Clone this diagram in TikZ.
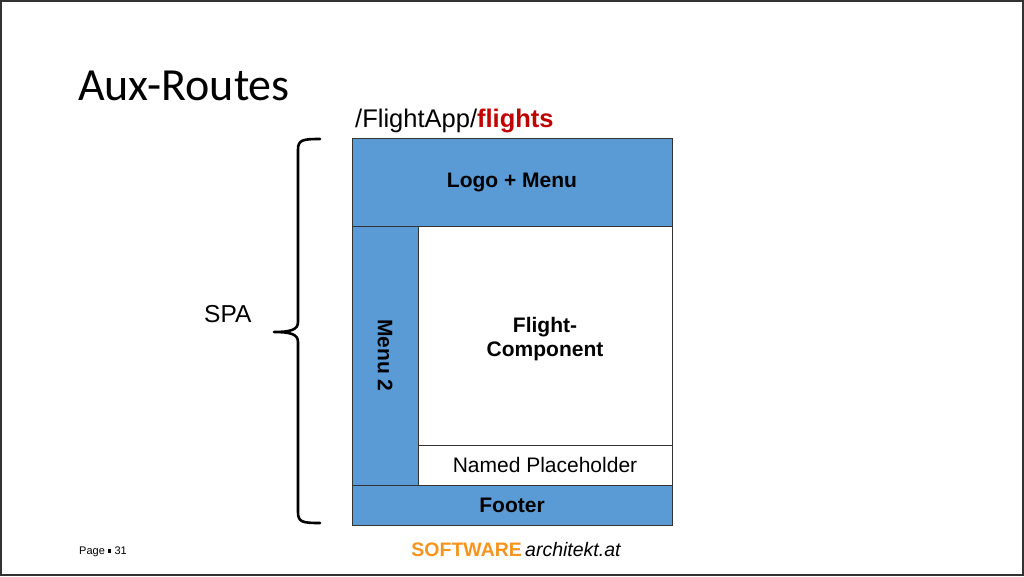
\documentclass[tikz,border=0pt]{standalone}
\usepackage{fontspec}
\setmainfont{Liberation Sans}
\newfontfamily\titlefont{Carlito}
\definecolor{boxblue}{HTML}{5B9BD5}
\definecolor{pathred}{HTML}{C00000}
\definecolor{brandorange}{HTML}{F7941D}
\tikzset{
  region/.style={draw=black!80, line width=0.8pt, anchor=north west, inner sep=0pt, outer sep=0pt, align=center},
  bluebox/.style={region, fill=boxblue, font=\fontsize{21}{24}\selectfont\bfseries},
  whitebox/.style={region, fill=white, font=\fontsize{21}{24}\selectfont},
}
\begin{document}
\begin{tikzpicture}[x=1pt,y=-1pt]
\useasboundingbox (0,0) rectangle (1024,576);
\draw[black!80, line width=1.5pt] (1,1) rectangle (1023,575);
\node[anchor=base west, inner sep=0pt, font=\titlefont\fontsize{46}{52}\selectfont] (title) at (78,100) {Aux-Routes};
\node[anchor=base west, inner sep=0pt, font=\fontsize{25.5}{28}\selectfont] (url) at (355,127) {/FlightApp/{\color{pathred}\bfseries flights}};
\node[bluebox, minimum width=320pt, minimum height=88pt] (logo) at (352,138) {\raisebox{-4pt}{Logo + Menu}};
\node[bluebox, minimum width=66pt, minimum height=259pt] (menu2) at (352,226) {};
\node[rotate=-90, font=\fontsize{21}{24}\selectfont\bfseries, inner sep=0pt] (menu2label) at (menu2.center) {Menu 2};
\node[whitebox, minimum width=254pt, minimum height=219pt] (flight) at (418,226) {};
\node[font=\fontsize{21}{24}\selectfont\bfseries, align=center] (flightlabel) at (545,339) {Flight-\\Component};
\node[whitebox, minimum width=254pt, minimum height=40pt] (named) at (418,445) {Named Placeholder};
\node[bluebox, minimum width=320pt, minimum height=40pt] (footer) at (352,485) {Footer};
\draw[line width=2.6pt, line cap=round, line join=round]
  (320,139) .. controls (302,139) and (298,140) .. (298,150) -- (298,322)
  .. controls (298,330) and (290,332) .. (274,332)
  .. controls (290,332) and (298,334) .. (298,342) -- (298,512)
  .. controls (298,522) and (302,523) .. (320,523);
\node[anchor=base west, inner sep=0pt, font=\fontsize{24.5}{27}\selectfont] (spa) at (204,322) {SPA};
\node[anchor=base west, inner sep=0pt, font=\fontsize{11}{13}\selectfont] (page) at (79,554) {Page \tikz[baseline]\fill (0,1.5pt) rectangle (3.5pt,5pt); 31};
\node[anchor=base, inner sep=0pt, font=\fontsize{19.5}{22}\selectfont] (brand) at (516,556) {{\color{brandorange}\bfseries SOFTWARE}\,\itshape architekt.at};
\end{tikzpicture}
\end{document}
